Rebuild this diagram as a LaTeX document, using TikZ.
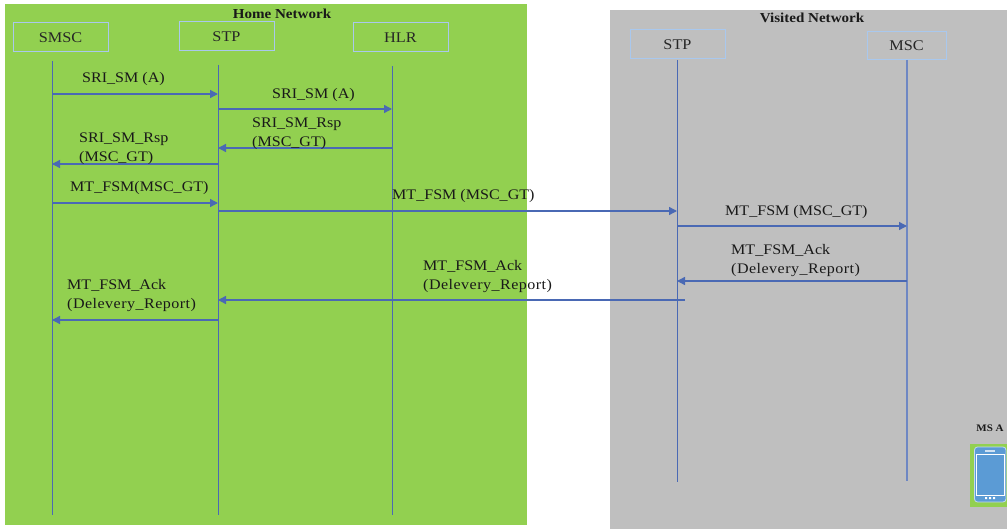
\documentclass[tikz,border=0pt]{standalone}
\usepackage{fontspec}
\setmainfont[FakeStretch=1.1]{Liberation Serif}
\usetikzlibrary{arrows.meta}
\definecolor{homegreen}{HTML}{92D050}
\definecolor{visitgrey}{HTML}{BFBFBF}
\definecolor{linkblue}{HTML}{4A69B4}
\definecolor{boxblue}{HTML}{A9C8EE}
\definecolor{phoneblue}{HTML}{5B9BD5}
\newcommand{\wideline}[1]{{\addfontfeature{LetterSpace=3.2}#1}}
\tikzset{
  x=1pt,y=-1pt,
  entity/.style={draw=boxblue,line width=1pt,inner sep=0,font=\fontsize{14.8}{17}\selectfont,text=black!85},
  lifeline/.style={draw=linkblue,line width=0.9pt},
  msg/.style={draw=linkblue,line width=1.4pt,-{Triangle[length=8pt,width=8pt]}},
  label/.style={anchor=west,inner sep=0,align=left,text=black!90,font=\fontsize{14.6}{19}\selectfont},
  title/.style={inner sep=0,font=\fontsize{13.7}{15}\selectfont\bfseries,text=black!90},
}
\begin{document}
\begin{tikzpicture}
\useasboundingbox (0,0) rectangle (1007,529);
\fill[homegreen] (5,4) rectangle (527,525);
\fill[visitgrey] (610,10) rectangle (1007,529);
\node[title] (hometitle) at (282,14) {Home Network};
\node[title] (visittitle) at (812,18) {Visited Network};
% entities
\node[entity,minimum width=95pt,minimum height=29pt] (smsc) at (60.5,37.5) {\raisebox{-1pt}{SMSC}};
\node[entity,minimum width=95pt,minimum height=29pt] (stpa) at (226.5,36.5) {\raisebox{-1pt}{STP}};
\node[entity,minimum width=95pt,minimum height=29pt] (hlr) at (400.5,37.5) {\raisebox{-1pt}{HLR}};
\node[entity,minimum width=95pt,minimum height=29pt] (stpb) at (677.5,44.5) {\raisebox{-1pt}{STP}};
\node[entity,minimum width=79pt,minimum height=28pt] (msc) at (906.5,46) {\raisebox{-1pt}{MSC}};
% lifelines
\coordinate (smscT) at (52,61);   \coordinate (smscB) at (52,515);
\coordinate (stpaT) at (218,65);  \coordinate (stpaB) at (218,515);
\coordinate (hlrT) at (392,66);   \coordinate (hlrB) at (392,515);
\coordinate (stpbT) at (677,60);  \coordinate (stpbB) at (677,482);
\coordinate (mscT) at (907,60);   \coordinate (mscB) at (907,481);
\foreach \n in {smsc,stpa,hlr,stpb} \draw[lifeline] (\n T) -- (\n B);
\draw[lifeline,line width=1.2pt,draw=linkblue!80!white] (mscT) -- (mscB);
% message levels
\coordinate (m1) at (0,94);  \coordinate (m2) at (0,109);
\coordinate (m3) at (0,148); \coordinate (m4) at (0,164);
\coordinate (m5) at (0,203); \coordinate (m6) at (0,211);
\coordinate (m7) at (0,226); \coordinate (m8) at (0,281);
\coordinate (m9) at (0,300); \coordinate (m10) at (0,320);
\coordinate (ackstart) at (685,300);
\draw[msg] (smscT |- m1) -- (stpaT |- m1);
\draw[msg] (stpaT |- m2) -- (hlrT |- m2);
\draw[msg] (hlrT |- m3) -- (stpaT |- m3);
\draw[msg] (stpaT |- m4) -- (smscT |- m4);
\draw[msg] (smscT |- m5) -- (stpaT |- m5);
\draw[msg] (stpaT |- m6) -- (stpbT |- m6);
\draw[msg] (stpbT |- m7) -- (mscT |- m7);
\draw[msg] (mscT |- m8) -- (stpbT |- m8);
\draw[msg] (ackstart) -- (stpaT |- m9);
\draw[msg] (stpaT |- m10) -- (smscT |- m10);
% labels
\node[label] (l1) at (82,79) {SRI\_SM (A)};
\node[label] (l2) at (272,95) {SRI\_SM (A)};
\node[label] (l3) at (252,134) {SRI\_SM\_Rsp\\(MSC\_GT)};
\node[label] (l4) at (79,149) {SRI\_SM\_Rsp\\(MSC\_GT)};
\node[label] (l5) at (70,188) {MT\_FSM(MSC\_GT)};
\node[label] (l6) at (392,196) {MT\_FSM (MSC\_GT)};
\node[label] (l7) at (725,212) {MT\_FSM (MSC\_GT)};
\node[label] (l8) at (731,260.5) {MT\_FSM\_Ack\\\wideline{(Delevery\_Report)}};
\node[label] (l9) at (423,276.5) {MT\_FSM\_Ack\\\wideline{(Delevery\_Report)}};
\node[label] (l10) at (67,295.5) {MT\_FSM\_Ack\\\wideline{(Delevery\_Report)}};
% handset
\node[inner sep=0,font=\fontsize{10}{12}\selectfont\bfseries,text=black!90] (msa) at (990,428) {MS A};
\fill[homegreen] (970,444) rectangle (1007,507);
\draw[draw=boxblue!70!white,fill=phoneblue,line width=0.8pt,rounded corners=3pt] (974.5,447) rectangle (1006,502);
\draw[white,line width=0.8pt] (976.5,454.5) rectangle (1004,495);
\draw[white!70!phoneblue,line width=1.2pt] (985,451) -- (995,451);
\fill[white] (985,497) rectangle (987,499) (989,497) rectangle (991,499) (993,497) rectangle (995,499);
\end{tikzpicture}
\end{document}
